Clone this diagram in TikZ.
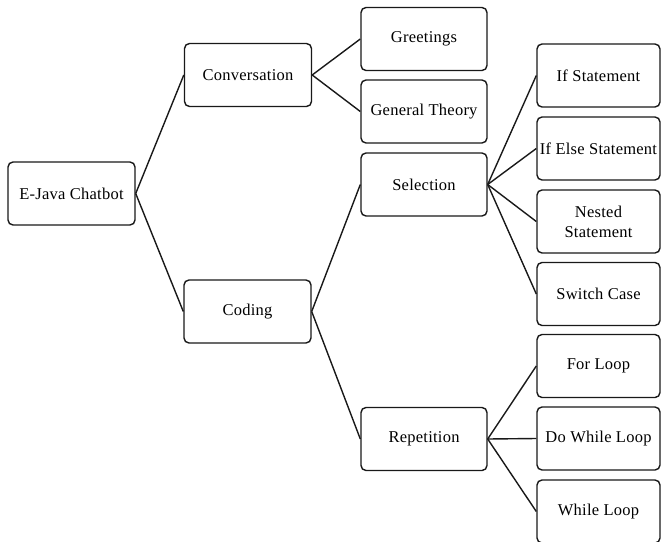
\documentclass[tikz,border=0pt]{standalone}
\usepackage{fontspec}
\setmainfont[LetterSpace=1.5]{Liberation Serif}
\begin{document}
\begin{tikzpicture}[x=1pt,y=-1pt,
  box/.style={draw=black!90, line width=1.4pt, rounded corners=5pt, fill=white,
    inner sep=0pt, align=center, font=\fontsize{16.5}{20}\selectfont},
  link/.style={draw=black!90, line width=1.4pt},
  lvlA/.style={box, minimum width=127pt, minimum height=63pt},
  lvlB/.style={box, minimum width=126pt, minimum height=63pt},
  lvlC/.style={box, minimum width=123pt, minimum height=63pt}]
\useasboundingbox (0,0) rectangle (661,541);

% root
\node[lvlA] (root) at (71.5,193.5) {E-Java Chatbot};

% first level
\node[lvlA] (conv) at (248,75) {Conversation};
\node[lvlA] (code) at (247.5,311.5) {Coding};

% second level
\node[lvlB] (greet) at (424,39) {Greetings};
\node[lvlB] (theory) at (424,111.5) {General Theory};
\node[lvlB] (sel) at (424,184.5) {Selection};
\node[lvlB] (rep) at (424,439) {Repetition};

% third level: selection
\node[lvlC] (ifs) at (598.5,75.5) {If Statement};
\node[lvlC] (ifelse) at (598.5,148.5) {If Else Statement};
\node[lvlC] (nested) at (598.5,221.5) {Nested\\Statement};
\node[lvlC] (switch) at (598.5,294) {Switch Case};

% third level: repetition
\node[lvlC] (forl) at (598.5,366) {For Loop};
\node[lvlC] (dowhile) at (598.5,438.5) {Do While Loop};
\node[lvlC] (whilel) at (598.5,511.5) {While Loop};

% connectors
\draw[link] (root.east) -- (conv.west);
\draw[link] (root.east) -- (code.west);
\draw[link] (conv.east) -- (greet.west);
\draw[link] (conv.east) -- (theory.west);
\draw[link] (code.east) -- (sel.west);
\draw[link] (code.east) -- (rep.west);
\draw[link] (sel.east) -- (ifs.west);
\draw[link] (sel.east) -- (ifelse.west);
\draw[link] (sel.east) -- (nested.west);
\draw[link] (sel.east) -- (switch.west);
\draw[link] (rep.east) -- (forl.west);
\draw[link] (rep.east) -- (dowhile.west);
\draw[link] (rep.east) -- (whilel.west);
\end{tikzpicture}
\end{document}
